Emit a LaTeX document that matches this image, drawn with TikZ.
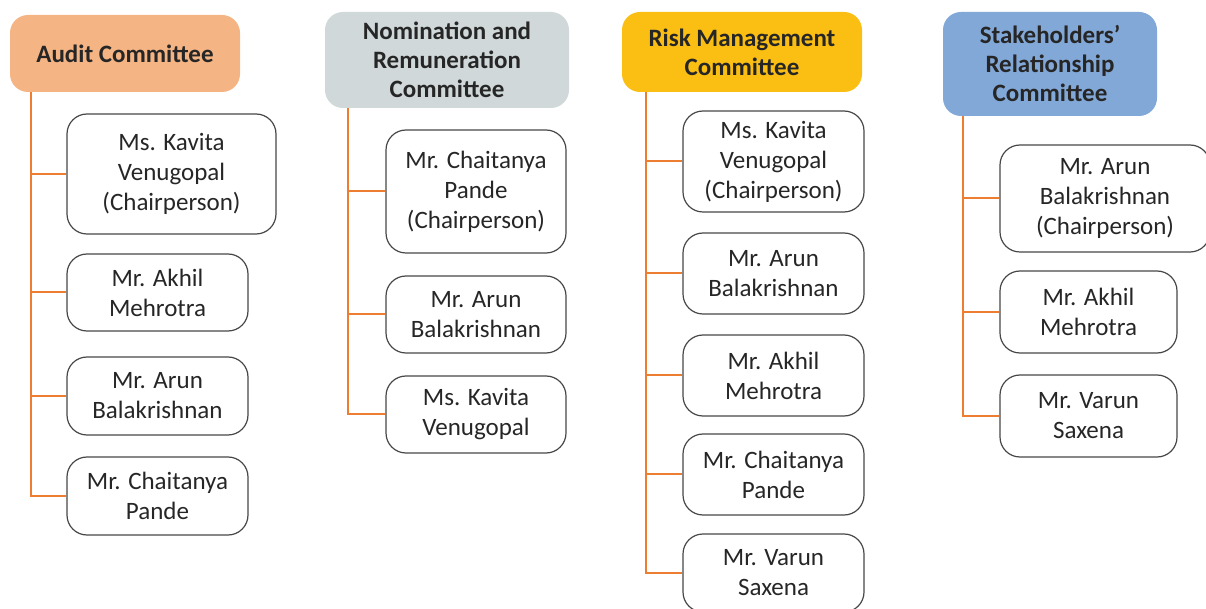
\documentclass[tikz,border=0pt]{standalone}
\usepackage{fontspec}
\setmainfont{Carlito}
\usetikzlibrary{calc}
\definecolor{auditfill}{HTML}{F4B483}
\definecolor{nomfill}{HTML}{D0D8DA}
\definecolor{riskfill}{HTML}{FBBF14}
\definecolor{stakefill}{HTML}{82A8D8}
\definecolor{branchcol}{HTML}{ED7D31}
\definecolor{inkcol}{HTML}{262626}
\tikzset{
	head/.style={rounded corners=9pt, inner sep=0pt, align=center, text=inkcol,
		font=\fontsize{12.5}{14.5}\selectfont\bfseries},
	member/.style={draw=inkcol!85, line width=0.6pt, rounded corners=10pt, inner sep=0pt,
		align=center, text=inkcol, font=\fontsize{12.5}{15}\selectfont},
	branch/.style={draw=branchcol, line width=1pt}
}
\begin{document}
\begin{tikzpicture}[x=0.5pt, y=-0.5pt]
	% page 1206 x 609 (px)
	\useasboundingbox (0,0) rectangle (1206,609);
	
	% audit
	\node[head, fill=auditfill, minimum width=115pt, minimum height=38.5pt] (aud) at (125,53.5) {Audit Committee};
	\node[member, minimum width=104.5pt, minimum height=60pt] (a1) at (171.5,174) {Ms. Kavita\\Venugopal\\(Chairperson)};
	\node[member, minimum width=90.5pt, minimum height=38.5pt] (a2) at (157.5,292.5) {Mr. Akhil\\Mehrotra};
	\node[member, minimum width=90.5pt, minimum height=39pt] (a3) at (157.5,396) {Mr. Arun\\Balakrishnan};
	\node[member, minimum width=90.5pt, minimum height=39pt] (a4) at (157.5,496) {Mr. Chaitanya\\Pande};
	\coordinate (audT) at ($(aud.south west)+(21,0)$);
	\draw[branch] (audT) |- (a4.west);
	\foreach \n in {a1,a2,a3}
		\draw[branch] (\n.west) -- (\n.west -| audT);
	
	% nomination
	\node[head, fill=nomfill, minimum width=122pt, minimum height=48pt] (nom) at (447,60) {Nomination and\\Remuneration\\Committee};
	\node[member, minimum width=90pt, minimum height=61.5pt] (n1) at (476,191.5) {Mr. Chaitanya\\Pande\\(Chairperson)};
	\node[member, minimum width=90pt, minimum height=38.5pt] (n2) at (476,314.5) {Mr. Arun\\Balakrishnan};
	\node[member, minimum width=90pt, minimum height=38.5pt] (n3) at (476,414.5) {Ms. Kavita\\Venugopal};
	\coordinate (nomT) at ($(nom.south west)+(23,0)$);
	\draw[branch] (nomT) |- (n3.west);
	\foreach \n in {n1,n2}
		\draw[branch] (\n.west) -- (\n.west -| nomT);
	
	% risk
	\node[head, fill=riskfill, minimum width=120pt, minimum height=40pt] (rsk) at (742,52) {Risk Management\\Committee};
	\node[member, minimum width=90.5pt, minimum height=50.5pt] (r1) at (773.5,161.5) {Ms. Kavita\\Venugopal\\(Chairperson)};
	\node[member, minimum width=90.5pt, minimum height=40.5pt] (r2) at (773.5,273.5) {Mr. Arun\\Balakrishnan};
	\node[member, minimum width=90.5pt, minimum height=40.5pt] (r3) at (773.5,375.5) {Mr. Akhil\\Mehrotra};
	\node[member, minimum width=90.5pt, minimum height=40.5pt] (r4) at (773.5,474.5) {Mr. Chaitanya\\Pande};
	\node[member, minimum width=90.5pt, minimum height=39pt] (r5) at (773.5,573) {Mr. Varun\\Saxena};
	\coordinate (rskT) at ($(rsk.south west)+(24,0)$);
	\draw[branch] (rskT) |- (r5.west);
	\foreach \n in {r1,r2,r3,r4}
		\draw[branch] (\n.west) -- (\n.west -| rskT);
	
	% stakeholders
	\node[head, fill=stakefill, minimum width=107pt, minimum height=52pt] (stk) at (1050,64) {Stakeholders’\\Relationship\\Committee};
	\node[member, minimum width=105pt, minimum height=53.5pt] (s1) at (1105,198.5) {Mr. Arun\\Balakrishnan\\(Chairperson)};
	\node[member, minimum width=88.5pt, minimum height=41pt] (s2) at (1088.5,312) {Mr. Akhil\\Mehrotra};
	\node[member, minimum width=88.5pt, minimum height=41pt] (s3) at (1088.5,416) {Mr. Varun\\Saxena};
	\coordinate (stkT) at ($(stk.south west)+(20,0)$);
	\draw[branch] (stkT) |- (s3.west);
	\foreach \n in {s1,s2}
		\draw[branch] (\n.west) -- (\n.west -| stkT);
	
\end{tikzpicture}
\end{document}
